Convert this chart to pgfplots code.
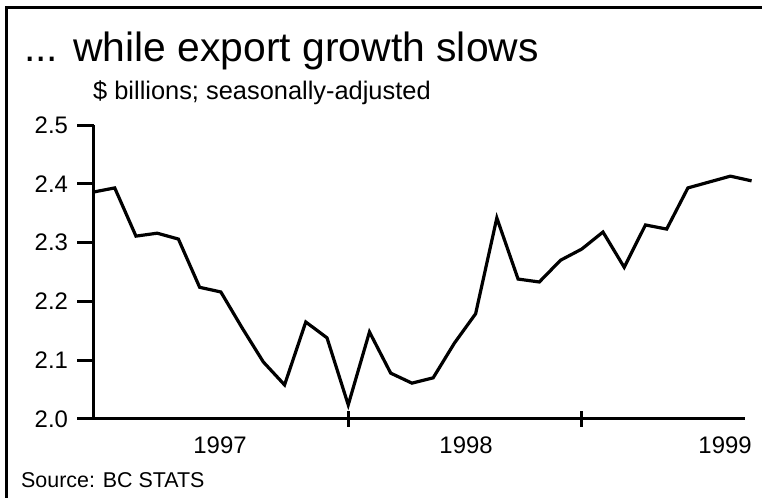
\documentclass[border=0pt]{standalone}
\usepackage{pgfplots}
\pgfplotsset{compat=1.18}
\usepackage{fontspec}
\setmainfont{Liberation Sans}
\begin{document}
\begin{tikzpicture}
\useasboundingbox (0,0) rectangle (762bp,498bp);
\draw[line width=3bp] (6bp,0) -- (6bp,490bp) -- (762bp,490bp);
\node[anchor=base west, inner sep=0, font=\fontsize{41}{46}\selectfont] at (24bp,436bp) {... while export growth slows};
\node[anchor=base west, inner sep=0, font=\fontsize{25.5}{29}\selectfont] at (93bp,398bp) {\$ billions; seasonally-adjusted};
\node[anchor=base west, inner sep=0, font=\fontsize{21.5}{25}\selectfont] at (21bp,11bp) {Source: BC STATS};
\begin{axis}[
  scale only axis, width=651.5bp, height=294bp,
  at={(93.5bp,79bp)}, anchor=south west,
  xmin=0, xmax=30.69, ymin=2.0, ymax=2.5,
  axis x line=bottom, axis y line=left,
  axis line style={line width=3bp, -},
  clip=false,
  ytick={2.0,2.1,2.2,2.3,2.4,2.5},
  yticklabels={2.0,2.1,2.2,2.3,2.4,2.5},
  xtick={12,23}, xticklabels={},
  extra x ticks={5.96,17.55,29.75},
  extra x tick labels={1997,1998,1999},
  extra x tick style={major tick length=0pt, tick label style={yshift=-14bp}},
  tick align=center, major tick length=16bp,
  tick style={line width=3bp, black},
  ytick style={xshift=-8bp},
  tick label style={font=\fontsize{24}{28}\selectfont},
  yticklabel style={xshift=-14bp},
]
\addplot[black, line width=3.2bp] table {
x y
0 2.386
1 2.393
2 2.311
3 2.316
4 2.306
5 2.224
6 2.216
7 2.155
8 2.097
9 2.058
10 2.165
11 2.138
12 2.024
13 2.148
14 2.078
15 2.061
16 2.070
17 2.129
18 2.179
19 2.342
20 2.238
21 2.233
22 2.270
23 2.289
24 2.318
25 2.258
26 2.330
27 2.323
28 2.393
29 2.403
30 2.413
31 2.405
};
\end{axis}
\end{tikzpicture}
\end{document}
